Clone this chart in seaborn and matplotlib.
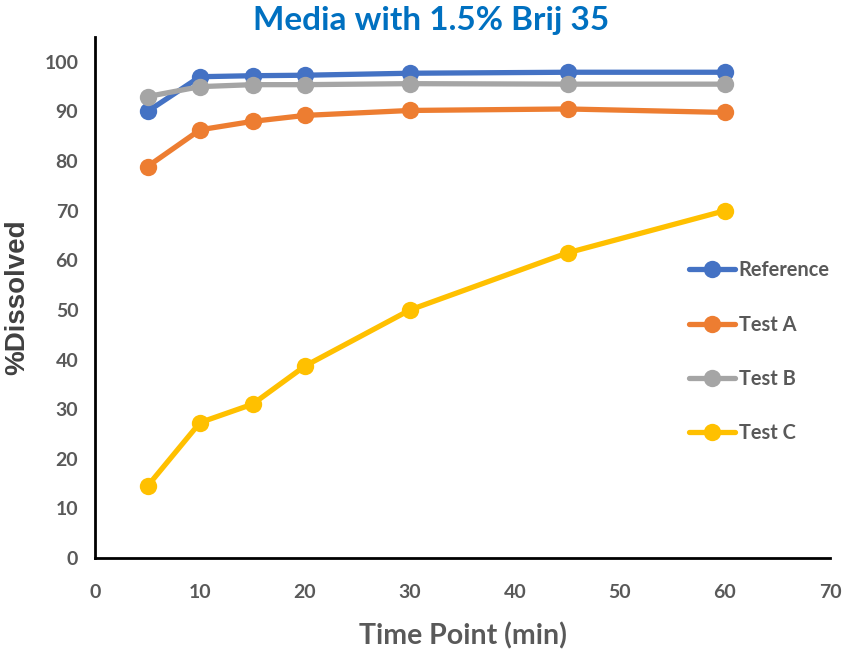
import matplotlib
matplotlib.use("Agg")
import matplotlib.pyplot as plt
import seaborn as sns
import pandas as pd

time_points = [5, 10, 15, 20, 30, 45, 60]
reference = [90.0, 97.0, 97.2, 97.3, 97.7, 97.9, 97.9]
test_a = [78.9, 86.3, 88.0, 89.2, 90.2, 90.5, 89.8]
test_b = [93.0, 95.0, 95.4, 95.4, 95.6, 95.5, 95.5]
test_c = [14.5, 27.3, 31.0, 38.7, 50.0, 61.5, 70.0]
series_names = ["Reference", "Test A", "Test B", "Test C"]
x_ticks = [0, 10, 20, 30, 40, 50, 60, 70]
y_ticks = [0, 10, 20, 30, 40, 50, 60, 70, 80, 90, 100]

sns.set_style("white")
plt.rcParams['font.family'] = ['Lato', 'DejaVu Sans']

rows = []
for name, vals in zip(series_names, [reference, test_a, test_b, test_c]):
    for t, v in zip(time_points, vals):
        rows.append({"Time": t, "Dissolved": v, "Series": name})
df = pd.DataFrame(rows)

palette = {"Reference": "#4472C4", "Test A": "#ED7D31", "Test B": "#A5A5A5", "Test C": "#FFC000"}

fig = plt.figure(figsize=(8.44, 6.67), dpi=100)
ax = fig.add_axes([0.1126, 0.1634, 0.8708, 0.7811])

sns.lineplot(data=df, x="Time", y="Dissolved", hue="Series", palette=palette,
             marker="o", markersize=12.5, linewidth=3.8, markeredgewidth=0,
             ax=ax, hue_order=series_names, legend=True)

ax.set_xlim(0, 70)
ax.set_ylim(0, 105)
ax.set_xticks(x_ticks)
ax.set_yticks(y_ticks)
ax.tick_params(axis='both', length=0, labelsize=14, labelcolor="#595959")
ax.tick_params(axis='x', pad=19)
ax.tick_params(axis='y', pad=12)
for lab in ax.get_xticklabels() + ax.get_yticklabels():
    lab.set_fontweight("bold")

for s in ["top", "right"]:
    ax.spines[s].set_visible(False)
for s in ["left", "bottom"]:
    ax.spines[s].set_color("black")
    ax.spines[s].set_linewidth(2)

ax.set_xlabel("Time Point (min)", fontsize=20.5, fontweight="bold", color="#595959", labelpad=15)
ax.set_ylabel("%Dissolved", fontsize=20, fontweight="bold", color="#404040", labelpad=10,
              family=["Liberation Sans", "DejaVu Sans"])
ax.set_title("Media with 1.5% Brij 35", fontsize=24, fontweight="bold", color="#0070C0", pad=5)
ax.title.set_position((0.457, 1.0))

leg = ax.legend(loc="upper left", bbox_to_anchor=(0.783, 0.606), frameon=False,
                fontsize=14.4, labelspacing=1.72, handlelength=2.3, handletextpad=0.2)
for t in leg.get_texts():
    t.set_fontweight("bold")
    t.set_color("#595959")

fig.savefig("out.png", dpi=100)
